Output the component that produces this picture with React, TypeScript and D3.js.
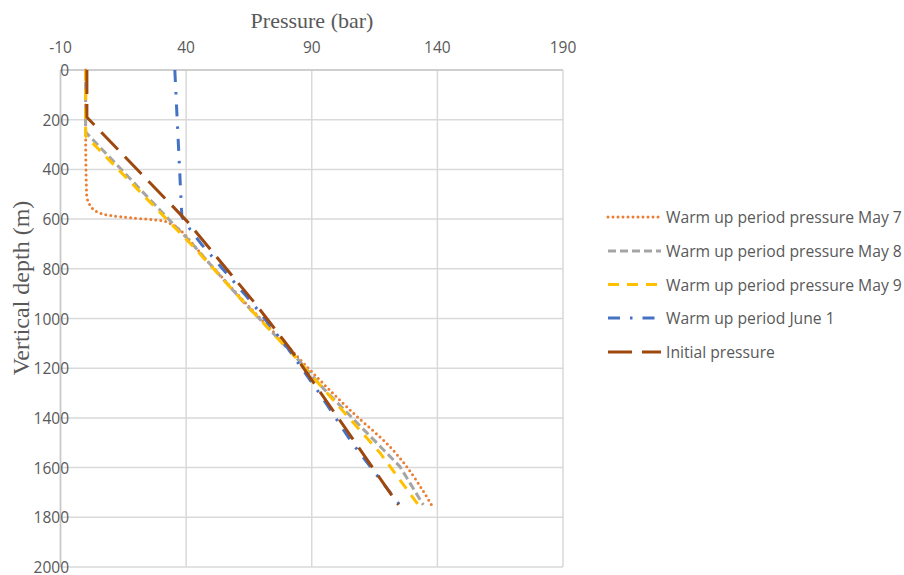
import React from "react";
import * as d3 from "d3";

// Depth (m) / pressure (bar) profiles for each survey
const may7: [number, number][] = [
  [0, 0], [250, 0], [500, 0.4], [540, 1.5], [576, 5.7], [596, 18.9], [606, 30.3],
  [624, 34.8], [655, 38.8], [700, 42.6], [925, 62.5], [1113, 80.5], [1207, 89.3],
  [1368, 105.2], [1516, 121.1], [1750, 137.7],
];
const may8: [number, number][] = [
  [0, 0], [250, 0], [700, 42.5], [925, 62], [1154, 83.5], [1280, 94.5],
  [1596, 125.1], [1750, 134.4],
];
const may9: [number, number][] = [
  [0, 0], [265, 0], [711, 42.9], [925, 62.1], [1154, 83.3], [1541, 117.2],
  [1750, 132.4],
];
const june1: [number, number][] = [
  [0, 35.5], [590, 38.3], [640, 41.5], [700, 46], [940, 66.5], [1120, 80.5],
  [1300, 93], [1500, 106], [1750, 125],
];
const initial: [number, number][] = [
  [0, 0.5], [190, 0.5], [610, 40.5], [940, 67.5], [1120, 81.3], [1750, 124.5],
];

const seriesNames = [
  "Warm up period pressure May 7",
  "Warm up period pressure May 8",
  "Warm up period pressure May 9",
  "Warm up period June 1",
  "Initial pressure",
];

const xTicks = [-10, 40, 90, 140, 190];
const yTicks = [0, 200, 400, 600, 800, 1000, 1200, 1400, 1600, 1800, 2000];

type Style = { color: string; dash: string; cap: "round" | "butt"; smooth: boolean };

const styles: Style[] = [
  { color: "#ED7D31", dash: "0,5", cap: "round", smooth: true },
  { color: "#A5A5A5", dash: "8,4", cap: "butt", smooth: false },
  { color: "#FFC000", dash: "11,8", cap: "butt", smooth: false },
  { color: "#4472C4", dash: "12,10,2.5,10", cap: "butt", smooth: false },
  { color: "#9E480E", dash: "24,10", cap: "butt", smooth: false },
];

const data = [may7, may8, may9, june1, initial];

export default function App() {
  const W = 904;
  const H = 575;
  const x = d3.scaleLinear().domain([-10, 190]).range([60.5, 563]);
  const y = d3.scaleLinear().domain([0, 2000]).range([70, 567]);

  const mkLine = (smooth: boolean) =>
    d3
      .line<[number, number]>()
      .x((d) => x(d[1]))
      .y((d) => y(d[0]))
      .curve(smooth ? d3.curveMonotoneY : d3.curveLinear);

  const grid = "#d9d9d9";
  const label = "#595959";
  const sans = "'Open Sans', 'Noto Sans', sans-serif";
  const serif = "'Liberation Serif', 'Times New Roman', serif";

  const legendY = [217, 251, 284.5, 318, 352];

  return (
    <svg
      width={W}
      height={H}
      style={{ position: "absolute", left: 0, top: 0, background: "#fff" }}
    >
      <rect width={W} height={H} fill="#fff" />
      {/* grid */}
      {xTicks.map((t) => (
        <line key={"gx" + t} x1={x(t)} x2={x(t)} y1={y(0)} y2={y(2000)} stroke={grid} strokeWidth={1.5} />
      ))}
      {yTicks.map((t) => (
        <line key={"gy" + t} x1={x(-10)} x2={x(190)} y1={y(t)} y2={y(t)} stroke={grid} strokeWidth={1.5} />
      ))}
      <line x1={x(-10)} x2={x(-10)} y1={y(0)} y2={y(2000)} stroke="#c8c8c8" strokeWidth={1.5} />
      <line x1={x(-10)} x2={x(190)} y1={y(0)} y2={y(0)} stroke="#c8c8c8" strokeWidth={1.5} />

      {/* tick labels */}
      {xTicks.map((t) => (
        <text key={"tx" + t} x={x(t)} y={53} textAnchor="middle" fontFamily={sans} fontSize={15.5} fill={label}>
          {t}
        </text>
      ))}
      {yTicks.map((t) => (
        <text key={"ty" + t} x={69} y={y(t) + 6} textAnchor="end" fontFamily={sans} fontSize={15.5} fill={label}>
          {t}
        </text>
      ))}

      {/* axis titles */}
      <text x={312} y={28} textAnchor="middle" fontFamily={serif} fontSize={22} fill={label}>
        Pressure (bar)
      </text>
      <text
        transform={`translate(29, 288) rotate(-90)`}
        textAnchor="middle"
        fontFamily={serif}
        fontSize={24}
        fill={label}
      >
        Vertical depth (m)
      </text>

      {/* series */}
      {data.map((s, i) => (
        <path
          key={"s" + i}
          d={mkLine(styles[i].smooth)(s) || ""}
          fill="none"
          stroke={styles[i].color}
          strokeWidth={3}
          strokeDasharray={styles[i].dash}
          strokeLinecap={styles[i].cap}
          strokeLinejoin="round"
        />
      ))}

      {/* legend */}
      {seriesNames.map((n, i) => (
        <g key={"l" + i}>
          <line
            x1={608}
            x2={661}
            y1={legendY[i]}
            y2={legendY[i]}
            stroke={styles[i].color}
            strokeWidth={3}
            strokeDasharray={styles[i].dash}
            strokeLinecap={styles[i].cap}
          />
          <text x={666} y={legendY[i] + 6} fontFamily={sans} fontSize={15.7} fill={label}>
            {n}
          </text>
        </g>
      ))}
    </svg>
  );
}
